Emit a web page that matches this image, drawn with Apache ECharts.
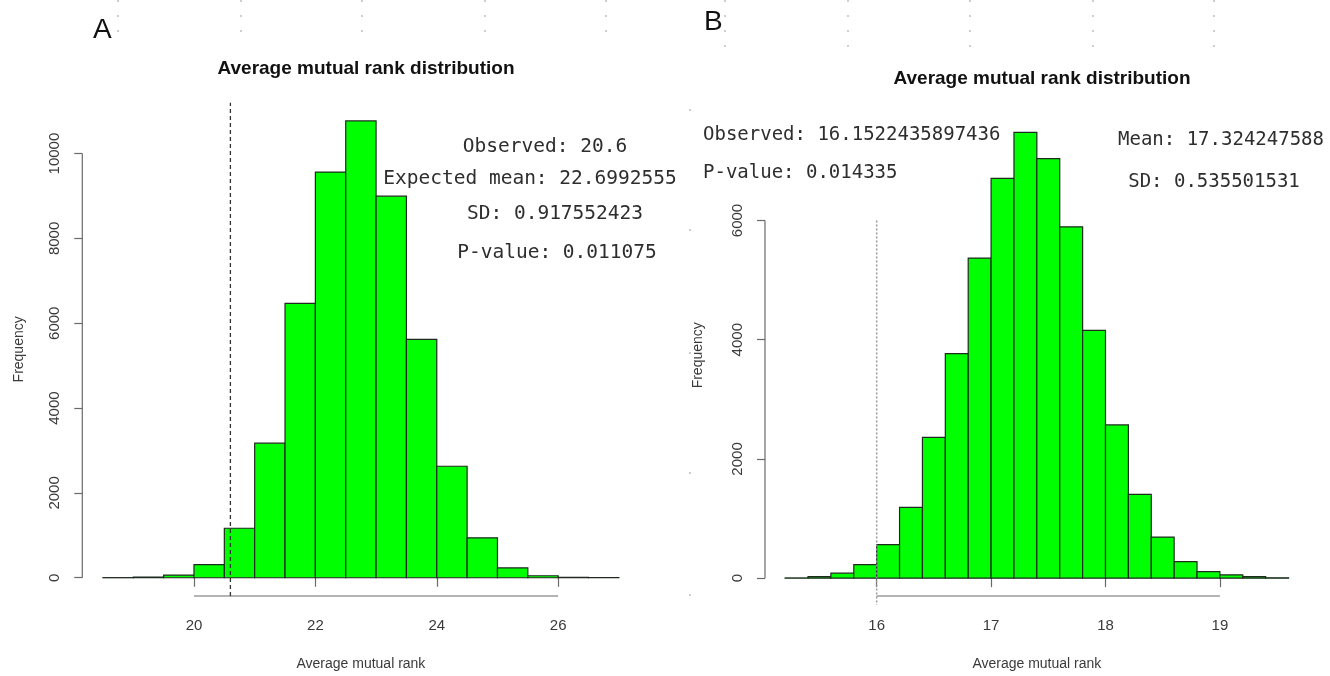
<!DOCTYPE html>
<html>
<head>
<meta charset="utf-8">
<script src="https://cdn.jsdelivr.net/npm/echarts@6/dist/echarts.min.js"></script>
<style>
  html, body { margin: 0; padding: 0; background: #ffffff; }
  #chart { width: 1330px; height: 676px; }
</style>
</head>
<body>
<div id="chart"></div>
<script>
// Panel A: histogram of simulated average mutual ranks
const breaksA = [18.5, 19, 19.5, 20, 20.5, 21, 21.5, 22, 22.5, 23, 23.5, 24, 24.5, 25, 25.5, 26, 26.5, 27];
const countsA = [2, 15, 62, 311, 1166, 3172, 6468, 9564, 10768, 8995, 5620, 2628, 941, 233, 47, 10, 2];
const xTicksA = [20, 22, 24, 26];
const yTicksA = [0, 2000, 4000, 6000, 8000, 10000];
const observedA = 20.6;
const notesA = ['Observed: 20.6', 'Expected mean: 22.6992555', 'SD: 0.917552423', 'P-value: 0.011075'];

// Panel B
const breaksB = [15.2, 15.4, 15.6, 15.8, 16.0, 16.2, 16.4, 16.6, 16.8, 17.0, 17.2, 17.4, 17.6, 17.8, 18.0, 18.2, 18.4, 18.6, 18.8, 19.0, 19.2, 19.4, 19.6];
const countsB = [4, 27, 83, 226, 563, 1187, 2362, 3768, 5369, 6705, 7477, 7037, 5894, 4156, 2571, 1407, 690, 276, 110, 56, 27, 6];
const xTicksB = [16, 17, 18, 19];
const yTicksB = [0, 2000, 4000, 6000];
const observedLineB = 16;
const observedLineTopB = 6000;
const notesB = ['Observed: 16.1522435897436', 'P-value: 0.014335', 'Mean: 17.324247588', 'SD: 0.535501531'];

const titleText = 'Average mutual rank distribution';
const xName = 'Average mutual rank';
const yName = 'Frequency';

const SANS = '"Liberation Sans", Arial, Helvetica, sans-serif';
const MONO = '"DejaVu Sans Mono", monospace';

// R-style range: data extent padded by 4% on each side
function padded(lo, hi) {
  const d = (hi - lo) * 0.04;
  return [lo - d, hi + d];
}
const xRangeA = padded(breaksA[0], breaksA[breaksA.length - 1]);
const yRangeA = padded(0, Math.max(...countsA));
const xRangeB = padded(breaksB[0], breaksB[breaksB.length - 1]);
const yRangeB = padded(0, Math.max(...countsB));

function binData(breaks, counts) {
  return counts.map((c, i) => [breaks[i], breaks[i + 1], c]);
}

function renderBar(params, api) {
  const p0 = api.coord([api.value(0), api.value(2)]);
  const p1 = api.coord([api.value(1), 0]);
  return {
    type: 'rect',
    shape: { x: p0[0], y: p0[1], width: p1[0] - p0[0], height: p1[1] - p0[1] },
    style: { fill: '#00ff00', stroke: '#1e2a1e', lineWidth: 1.2 }
  };
}

const AXIS_COLOR = '#6a6a6a';
const LABEL_COLOR = '#3a3a3a';
const plain = v => String(v);

function xAxisCfg(gridIndex, range, ticks) {
  return {
    type: 'value', gridIndex, min: range[0], max: range[1],
    axisLine: { show: false },
    splitLine: { show: false },
    axisTick: { show: true, customValues: ticks, length: 9, lineStyle: { color: AXIS_COLOR, width: 1.2 } },
    axisLabel: { customValues: ticks, formatter: plain, margin: 22, fontSize: 15, color: LABEL_COLOR, fontFamily: SANS },
    name: xName, nameLocation: 'middle', nameGap: 61,
    nameTextStyle: { fontSize: 14, color: LABEL_COLOR, fontFamily: SANS }
  };
}
function yAxisCfg(gridIndex, range, ticks, gap) {
  return {
    type: 'value', gridIndex, min: range[0], max: range[1],
    axisLine: { show: false },
    splitLine: { show: false },
    axisTick: { show: true, customValues: ticks, length: 8, lineStyle: { color: AXIS_COLOR, width: 1.2 } },
    axisLabel: { customValues: ticks, formatter: plain, rotate: 90, margin: 20, fontSize: 15, color: LABEL_COLOR, fontFamily: SANS },
    name: yName, nameLocation: 'middle', nameGap: gap, nameRotate: 90,
    nameTextStyle: { fontSize: 14, color: LABEL_COLOR, fontFamily: SANS }
  };
}

// axis lines drawn only between first and last tick, as in base R graphics
function axisSegments(xi, yi, xTicks, yTicks, xRange, yRange) {
  const style = { color: AXIS_COLOR, width: 1.2 };
  return [
    { type: 'line', xAxisIndex: xi, yAxisIndex: yi, clip: false, silent: true, symbol: 'none',
      lineStyle: style, data: [[xTicks[0], yRange[0]], [xTicks[xTicks.length - 1], yRange[0]]] },
    { type: 'line', xAxisIndex: xi, yAxisIndex: yi, clip: false, silent: true, symbol: 'none',
      lineStyle: style, data: [[xRange[0], yTicks[0]], [xRange[0], yTicks[yTicks.length - 1]]] }
  ];
}

const chart = echarts.init(document.getElementById('chart'), null, { renderer: 'canvas' });

const dots = [];
[118, 241, 362, 485, 606].forEach(x => [1, 16, 31].forEach(y => dots.push([x, y])));
[725, 848, 970, 1093, 1214].forEach(x => [1, 16, 31, 46].forEach(y => dots.push([x, y])));
[110, 230, 353, 473, 595].forEach(y => dots.push([690, y]));

const graphics = dots.map(d => ({
  type: 'circle', shape: { cx: d[0], cy: d[1], r: 0.9 }, style: { fill: '#b8b8b8' }, silent: true
}));

graphics.push(
  { type: 'text', left: 93, top: 16, style: { text: 'A', font: '28px ' + SANS, fill: '#111' } },
  { type: 'text', left: 704, top: 8, style: { text: 'B', font: '28px ' + SANS, fill: '#111' } }
);

const noteStyleA = { font: '19.5px ' + MONO, fill: '#2e2e2e', textAlign: 'center', textVerticalAlign: 'middle' };
[[545, 147], [530, 179], [555, 214], [557, 253]].forEach((p, i) => {
  graphics.push({ type: 'text', x: p[0], y: p[1], style: Object.assign({ text: notesA[i] }, noteStyleA) });
});
const noteStyleB = { font: '19px ' + MONO, fill: '#2e2e2e', textVerticalAlign: 'middle' };
graphics.push(
  { type: 'text', x: 703, y: 135, style: Object.assign({ text: notesB[0], textAlign: 'left' }, noteStyleB) },
  { type: 'text', x: 703, y: 173, style: Object.assign({ text: notesB[1], textAlign: 'left' }, noteStyleB) },
  { type: 'text', x: 1221, y: 140, style: Object.assign({ text: notesB[2], textAlign: 'center' }, noteStyleB) },
  { type: 'text', x: 1214, y: 182, style: Object.assign({ text: notesB[3], textAlign: 'center' }, noteStyleB) }
);

const titleStyle = { fontSize: 19, fontWeight: 'bold', color: '#111', fontFamily: SANS };
const option = {
  backgroundColor: '#ffffff',
  animation: false,
  title: [
    { text: titleText, left: 361, top: 54, textAlign: 'center', textStyle: titleStyle },
    { text: titleText, left: 1037, top: 64, textAlign: 'center', textStyle: titleStyle }
  ],
  grid: [
    { left: 82.3, top: 102.7, width: 557.2, height: 499.1 },
    { left: 765, top: 114.6, width: 543.7, height: 487.8 }
  ],
  xAxis: [xAxisCfg(0, xRangeA, xTicksA), xAxisCfg(1, xRangeB, xTicksB)],
  yAxis: [yAxisCfg(0, yRangeA, yTicksA, 56), yAxisCfg(1, yRangeB, yTicksB, 60)],
  graphic: graphics,
  series: [
    { type: 'custom', xAxisIndex: 0, yAxisIndex: 0, renderItem: renderBar,
      encode: { x: [0, 1], y: 2 }, data: binData(breaksA, countsA), clip: false },
    { type: 'custom', xAxisIndex: 1, yAxisIndex: 1, renderItem: renderBar,
      encode: { x: [0, 1], y: 2 }, data: binData(breaksB, countsB), clip: false },
    ...axisSegments(0, 0, xTicksA, yTicksA, xRangeA, yRangeA),
    ...axisSegments(1, 1, xTicksB, yTicksB, xRangeB, yRangeB),
    { type: 'line', xAxisIndex: 0, yAxisIndex: 0, clip: false, silent: true, symbol: 'none', z: 5,
      lineStyle: { color: '#333', width: 1.3, type: [4, 3] },
      data: [[observedA, yRangeA[0]], [observedA, yRangeA[1]]] },
    { type: 'line', xAxisIndex: 1, yAxisIndex: 1, clip: false, silent: true, symbol: 'none', z: 5,
      lineStyle: { color: '#9a9a9a', width: 1.5, type: [2, 2] },
      data: [[observedLineB, observedLineTopB], [observedLineB, -450]] }
  ]
};
chart.setOption(option);
</script>
</body>
</html>
